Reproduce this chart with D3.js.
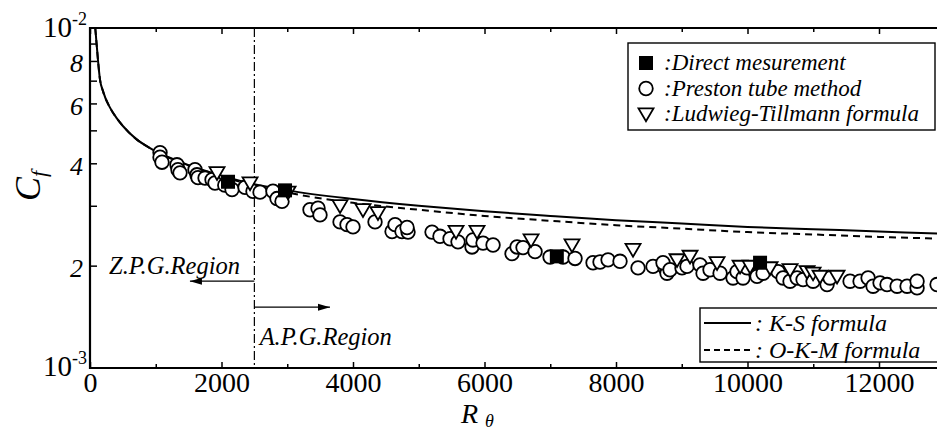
<!DOCTYPE html>
<html>
<head>
<meta charset="utf-8">
<script src="https://cdn.jsdelivr.net/npm/d3@7"></script>
<style>
  html, body { margin: 0; padding: 0; background: #fff; }
  svg { display: block; }
  svg text { font-family: "Times New Roman", "Liberation Serif", Times, "DejaVu Serif", serif !important; fill: #000; }
</style>
</head>
<body>
<svg id="chart" width="937" height="430"></svg>
<script>
// ---------------- data ----------------
const xTickValues = d3.range(0, 13000, 1000);
const xLabeledTicks = [0, 2000, 4000, 6000, 8000, 10000, 12000];
const yTickValues = [2e-3, 3e-3, 4e-3, 5e-3, 6e-3, 7e-3, 8e-3, 9e-3];
const yLabeledTicks = [2e-3, 4e-3, 6e-3, 8e-3];
const yTickLabels = ["2", "4", "6", "8"];

// K-S formula (solid) [R_theta, Cf]
const ksCurve = [
  [80, 1.0e-2], [100, 9.0e-3], [125, 7.9e-3], [150, 7.1e-3], [200, 6.5e-3], [300, 5.85e-3],
  [400, 5.45e-3], [500, 5.15e-3], [700, 4.72e-3], [900, 4.45e-3], [1000, 4.34e-3],
  [1500, 3.95e-3], [2000, 3.68e-3], [2500, 3.47e-3], [3000, 3.33e-3], [4000, 3.14e-3],
  [5000, 3.00e-3], [6000, 2.89e-3], [7000, 2.80e-3], [8000, 2.72e-3], [9000, 2.66e-3],
  [10000, 2.60e-3], [11000, 2.56e-3], [12000, 2.52e-3], [13000, 2.48e-3]
];
// O-K-M formula (dashed)
const okmCurve = [
  [80, 1.0e-2], [100, 9.0e-3], [125, 7.9e-3], [150, 7.1e-3], [200, 6.5e-3], [300, 5.85e-3],
  [400, 5.45e-3], [500, 5.15e-3], [700, 4.72e-3], [900, 4.45e-3], [1000, 4.34e-3],
  [1500, 3.94e-3], [2000, 3.66e-3], [2500, 3.44e-3], [3000, 3.28e-3], [4000, 3.06e-3],
  [5000, 2.92e-3], [6000, 2.80e-3], [7000, 2.71e-3], [8000, 2.63e-3], [9000, 2.57e-3],
  [10000, 2.51e-3], [11000, 2.47e-3], [12000, 2.43e-3], [13000, 2.40e-3]
];
// Preston tube method (open circles) [R_theta, Cf*1000]
const preston = [
  [1065, 4.30], [1065, 4.17], [1095, 4.03], [1323, 3.96], [1338, 3.83], [1369, 3.75],
  [1597, 3.83], [1627, 3.70], [1643, 3.63], [1750, 3.62], [1856, 3.58], [1901, 3.50],
  [2050, 3.45], [2160, 3.35], [2358, 3.40], [2479, 3.31], [2586, 3.29], [2783, 3.31],
  [2844, 3.15], [2920, 3.09], [3346, 2.92], [3468, 2.95], [3498, 2.82], [3803, 2.69],
  [3909, 2.64], [4000, 2.60], [4335, 2.69], [4594, 2.52], [4640, 2.64], [4745, 2.52],
  [4837, 2.51], [4822, 2.59], [5202, 2.51], [5323, 2.44], [5476, 2.40], [5597, 2.35],
  [5810, 2.27], [5825, 2.38], [5978, 2.33], [6130, 2.30], [6419, 2.17], [6495, 2.27],
  [6586, 2.26], [6769, 2.20], [6997, 2.12], [7195, 2.12], [7377, 2.10], [7651, 2.04],
  [7757, 2.05], [7879, 2.08], [8061, 2.06], [8335, 1.97], [8563, 1.99], [8746, 1.97],
  [8776, 1.90], [8715, 2.04], [8822, 1.945], [9004, 1.97], [9080, 1.99], [9278, 2.01],
  [9324, 1.90], [9430, 1.945], [9583, 1.90], [9780, 1.84], [9841, 1.92], [9932, 1.84],
  [9993, 1.97], [10145, 1.86], [10237, 1.90], [10465, 1.92], [10541, 1.84], [10647, 1.80],
  [10754, 1.84], [10845, 1.82], [10997, 1.80], [11210, 1.76], [11255, 1.84], [11560, 1.80],
  [11712, 1.80], [11834, 1.84], [11910, 1.74], [12016, 1.78], [12122, 1.76], [12275, 1.74],
  [12427, 1.74], [12579, 1.72], [12579, 1.80], [12883, 1.76]
];
// Ludwieg-Tillmann formula (open down triangles)
const ludwieg = [
  [1932, 3.75], [2434, 3.50], [3012, 3.29], [3803, 3.00], [4152, 2.92], [4380, 2.86],
  [5567, 2.52], [5886, 2.52], [6708, 2.38], [7331, 2.30], [8259, 2.23], [8928, 2.08],
  [9126, 2.13], [9537, 2.04], [9887, 1.99], [10039, 1.99], [10343, 1.97], [10647, 1.945],
  [10906, 1.92], [10997, 1.90], [11103, 1.86], [11362, 1.86]
];
// Direct measurement (filled squares)
const direct = [[2099, 3.53], [2966, 3.33], [7100, 2.13], [10191, 2.04]];

const boundaryRe = 2500;
const legendTop = [
  { sym: "square", label: ":Direct mesurement" },
  { sym: "circle", label: ":Preston tube method" },
  { sym: "triangle", label: ":Ludwieg-Tillmann formula" }
];
const legendBottom = [
  { dash: null, label: ": K-S formula" },
  { dash: "6,4", label: ": O-K-M formula" }
];

// ---------------- layout ----------------
const FONT = "'Times New Roman', 'Liberation Serif', Times, 'DejaVu Serif', serif";
const svg = d3.select("#chart").attr("font-family", FONT);
const W = 937, H = 430;
const mLeft = 90, mTop = 28, mBottom = 368;
const x = d3.scaleLinear().domain([0, 13000]).range([mLeft, mLeft + 13 * 65.75]);
const y = d3.scaleLog().domain([1e-3, 1e-2]).range([mBottom, mTop]);
const mRight = x(13000);

svg.append("rect").attr("width", W).attr("height", H).attr("fill", "#fff");

svg.append("defs").append("clipPath").attr("id", "plotclip")
  .append("rect").attr("x", mLeft).attr("y", mTop).attr("width", mRight - mLeft).attr("height", mBottom - mTop);

// axes
function styleAxis(g) {
  g.attr("font-family", FONT);
  g.select(".domain").remove();
  g.selectAll(".tick line").attr("stroke", "#000").attr("stroke-width", 1.5);
}
const xMinor = xTickValues.filter(v => !xLabeledTicks.includes(v));
svg.append("g").attr("transform", `translate(0,${mBottom})`)
  .call(d3.axisBottom(x).tickValues(xLabeledTicks).tickSize(-6).tickFormat(d3.format("d")))
  .call(styleAxis)
  .call(g => g.selectAll("text").attr("font-size", 28).attr("dy", "0.72em").attr("y", 4));
svg.append("g").attr("transform", `translate(0,${mBottom})`)
  .call(d3.axisBottom(x).tickValues(xMinor).tickSize(-4).tickFormat(""))
  .call(styleAxis);
svg.append("g").attr("transform", `translate(0,${mTop})`)
  .call(d3.axisTop(x).tickValues(xLabeledTicks).tickSize(-6).tickFormat(""))
  .call(styleAxis);
svg.append("g").attr("transform", `translate(0,${mTop})`)
  .call(d3.axisTop(x).tickValues(xMinor).tickSize(-4).tickFormat(""))
  .call(styleAxis);
svg.append("g").attr("transform", `translate(${mLeft},0)`)
  .call(d3.axisLeft(y).tickValues(yTickValues).tickSize(-7)
    .tickFormat(d => { const i = yLabeledTicks.indexOf(d); return i >= 0 ? yTickLabels[i] : ""; }))
  .call(styleAxis)
  .call(g => g.selectAll("text").attr("font-size", 26).attr("font-style", "italic")
    .attr("x", -7).attr("dy", "0.42em"));

// frame
svg.append("path")
  .attr("d", `M${mRight},${mTop}H${mLeft}V${mBottom}H${mRight}`)
  .attr("fill", "none").attr("stroke", "#000").attr("stroke-width", 2.2);

// decade labels
function decade(val, exp, dyv) {
  const t = svg.append("text").attr("x", mLeft - 3).attr("y", y(val) + dyv)
    .attr("text-anchor", "end").attr("font-size", 29);
  t.append("tspan").text("10");
  t.append("tspan").attr("font-size", 18).attr("dy", -12).text(exp);
}
decade(1e-2, "-2", 9);
decade(1e-3, "-3", 8);

// axis titles
const yt = svg.append("text").attr("transform", "translate(40,201) rotate(-90)")
  .attr("font-size", 36).attr("font-style", "italic");
yt.append("tspan").text("C");
yt.append("tspan").attr("font-size", 22).attr("dy", 6).text("f");

const xt = svg.append("text").attr("x", 461).attr("y", 423)
  .attr("font-size", 28).attr("font-style", "italic");
xt.append("tspan").text("R");
xt.append("tspan").attr("font-size", 18).attr("dx", 7).attr("dy", 4).text("θ");

// boundary line
svg.append("line")
  .attr("x1", x(boundaryRe)).attr("x2", x(boundaryRe)).attr("y1", mTop).attr("y2", mBottom)
  .attr("stroke", "#000").attr("stroke-width", 1.2).attr("stroke-dasharray", "9,3,2,3");

// curves
const plot = svg.append("g").attr("clip-path", "url(#plotclip)");
const line = d3.line().x(d => x(d[0])).y(d => y(d[1])).curve(d3.curveMonotoneX);
plot.append("path").attr("d", line(ksCurve)).attr("fill", "none")
  .attr("stroke", "#000").attr("stroke-width", 2);
plot.append("path").attr("d", line(okmCurve)).attr("fill", "none")
  .attr("stroke", "#000").attr("stroke-width", 2).attr("stroke-dasharray", "7,5");

// markers
const R = 6.8;
function triPath(cx, cy, s) {
  return `M${cx - s},${cy - s * 0.75}L${cx + s},${cy - s * 0.75}L${cx},${cy + s * 0.95}Z`;
}
plot.selectAll("circle.p").data(preston).join("circle")
  .attr("cx", d => x(d[0])).attr("cy", d => y(d[1] / 1000)).attr("r", R)
  .attr("fill", "#fff").attr("stroke", "#000").attr("stroke-width", 1.8);
plot.selectAll("path.t").data(ludwieg).join("path")
  .attr("d", d => triPath(x(d[0]), y(d[1] / 1000), 7.5))
  .attr("fill", "#fff").attr("stroke", "#000").attr("stroke-width", 1.8);
plot.selectAll("rect.s").data(direct).join("rect")
  .attr("x", d => x(d[0]) - 7).attr("y", d => y(d[1] / 1000) - 7)
  .attr("width", 14).attr("height", 14).attr("fill", "#000");

// annotations
const arrowY1 = y(1.80e-3), arrowY2 = y(1.51e-3);
function arrow(x1, x2, yy) {
  svg.append("line").attr("x1", x1).attr("x2", x2).attr("y1", yy).attr("y2", yy)
    .attr("stroke", "#000").attr("stroke-width", 1.3);
  const dir = Math.sign(x2 - x1);
  svg.append("path").attr("d", `M${x2},${yy}L${x2 - dir * 12},${yy - 3.5}L${x2 - dir * 12},${yy + 3.5}Z`)
    .attr("fill", "#000");
}
arrow(x(boundaryRe), x(1520), arrowY1);
arrow(x(boundaryRe), x(3650), arrowY2);
svg.append("text").attr("x", x(290)).attr("y", y(1.89e-3)).attr("font-size", 24.5)
  .attr("font-style", "italic").text("Z.P.G.Region");
svg.append("text").attr("x", x(2580)).attr("y", y(1.17e-3)).attr("font-size", 24.5)
  .attr("font-style", "italic").text("A.P.G.Region");

// legend top
const lg1 = svg.append("g");
lg1.append("rect").attr("x", 628).attr("y", 43).attr("width", 307).attr("height", 87)
  .attr("fill", "#fff").attr("stroke", "#000").attr("stroke-width", 1.4);
legendTop.forEach((d, i) => {
  const cy = 63 + i * 25.5, cx = 646;
  if (d.sym === "square") lg1.append("rect").attr("x", cx - 7).attr("y", cy - 7).attr("width", 14).attr("height", 14).attr("fill", "#000");
  if (d.sym === "circle") lg1.append("circle").attr("cx", cx).attr("cy", cy).attr("r", R).attr("fill", "#fff").attr("stroke", "#000").attr("stroke-width", 1.8);
  if (d.sym === "triangle") lg1.append("path").attr("d", triPath(cx, cy, 7.5)).attr("fill", "#fff").attr("stroke", "#000").attr("stroke-width", 1.8);
  lg1.append("text").attr("x", 664).attr("y", cy + 7).attr("font-size", 23).attr("font-style", "italic").text(d.label);
});

// legend bottom
const lg2 = svg.append("g");
lg2.append("rect").attr("x", 700).attr("y", 308).attr("width", 245).attr("height", 54)
  .attr("fill", "#fff").attr("stroke", "#000").attr("stroke-width", 1.4);
legendBottom.forEach((d, i) => {
  const cy = 323 + i * 27;
  const l = lg2.append("line").attr("x1", 704).attr("x2", 751).attr("y1", cy).attr("y2", cy)
    .attr("stroke", "#000").attr("stroke-width", 2);
  if (d.dash) l.attr("stroke-dasharray", d.dash);
  lg2.append("text").attr("x", 755).attr("y", cy + 8).attr("font-size", 24).attr("font-style", "italic").text(d.label);
});
</script>
</body>
</html>
